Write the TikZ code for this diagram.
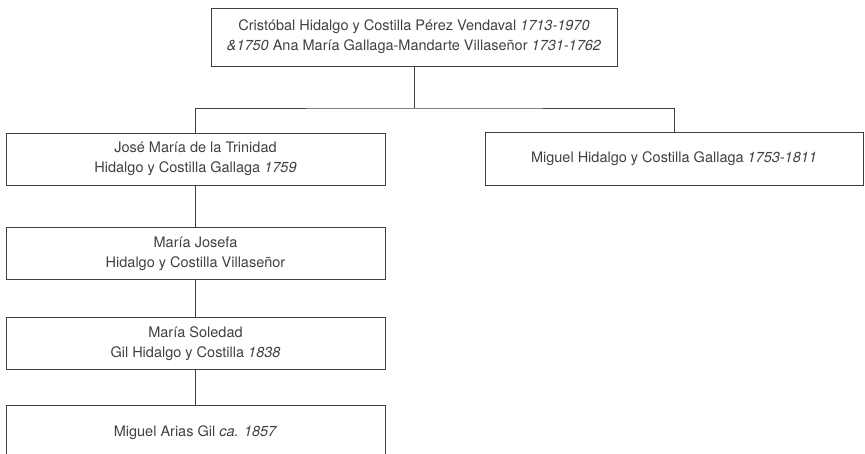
\documentclass[tikz,border=0pt]{standalone}
\usepackage{fontspec}
\setmainfont{TeX Gyre Heros}
\usetikzlibrary{positioning}

\tikzset{
  person/.style={draw=black!75, line width=0.9pt, rectangle, align=center,
    text=black!75, font=\fontsize{14.5}{20}\selectfont,
    minimum width=379pt, minimum height=52pt, inner sep=2pt},
  link/.style={draw=black!75, line width=0.9pt}
}

\begin{document}
\begin{tikzpicture}[x=1pt, y=-1pt]
        \useasboundingbox (0,0) rectangle (865,454);
        \clip (0,0) rectangle (865,454);
        \node[person, minimum width=406pt, minimum height=58pt] (parents) at (414,37)
            {Cristóbal Hidalgo y Costilla Pérez Vendaval \textit{1713-1970}\\
             \textit{\&1750} Ana María Gallaga-Mandarte Villaseñor \textit{1731-1762}};
        \node[person] (jose) at (195.5,159)
            {José María de la Trinidad\\ Hidalgo y Costilla Gallaga \textit{1759}};
        \node[person, minimum width=378pt, minimum height=53pt] (miguel) at (674,159)
            {Miguel Hidalgo y Costilla Gallaga \textit{1753-1811}};
        \node[person] (josefa) [below=42pt of jose]
            {María Josefa\\ Hidalgo y Costilla Villaseñor};
        \node[person] (soledad) [below=37pt of josefa]
            {María Soledad\\ Gil Hidalgo y Costilla \textit{1838}};
        \node[person, minimum height=54pt] (arias) [below=35pt of soledad]
            {Miguel Arias Gil \textit{ca. 1857}};
        \coordinate (bar) at (414,108);
        \draw[link] (parents) -- (bar);
        \draw[link] (jose.north) |- (bar) -| (miguel.north);
        \draw[link] (jose) -- (josefa);
        \draw[link] (josefa) -- (soledad);
        \draw[link] (soledad) -- (arias);
    \end{tikzpicture}
\end{document}
